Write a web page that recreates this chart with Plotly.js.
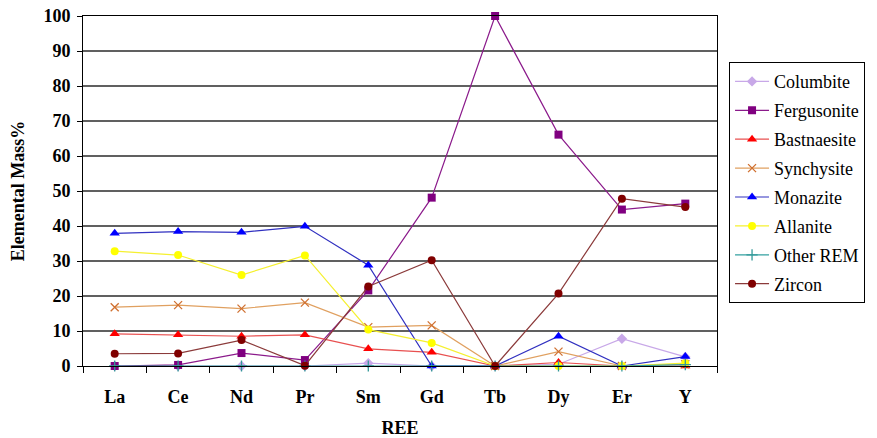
<!DOCTYPE html>
<html><head><meta charset="utf-8">
<script src="https://cdn.plot.ly/plotly-3.0.1.min.js"></script>
<style>html,body{margin:0;padding:0;background:#fff}#chart{width:877px;height:438px}</style>
</head><body><div id="chart"></div>
<script>
const categories = ["La","Ce","Nd","Pr","Sm","Gd","Tb","Dy","Er","Y"];
const columbite   = [0, 0, 0, 0, 0.8, 0, 0, 0.5, 7.8, 2.6];
const fergusonite = [0, 0.3, 3.7, 1.7, 21.6, 48.1, 100, 66.1, 44.7, 46.4];
const bastnaesite = [9.2, 8.9, 8.5, 8.9, 4.9, 3.9, 0, 1.0, 0, 0];
const synchysite  = [16.8, 17.4, 16.4, 18.1, 11.1, 11.6, 0, 4.1, 0, 0.5];
const monazite    = [37.9, 38.4, 38.2, 39.9, 28.8, 0, 0, 8.5, 0, 2.7];
const allanite    = [32.8, 31.7, 26.0, 31.6, 10.4, 6.6, 0, 0, 0, 0.8];
const otherREM    = [0, 0, 0, 0, 0, 0, 0, 0, 0, 0.4];
const zircon      = [3.5, 3.6, 7.4, 0.1, 22.7, 30.2, 0, 20.7, 47.8, 45.4];

const F = "Liberation Serif, Times New Roman, Times, serif";
function tr(name, y, lc, mc, sym, size){
  return {x: categories, y: y, name: name, legendgroup: name, type: 'scatter', mode: 'lines+markers',
    cliponaxis: false,
    line: {color: lc, width: 1.2},
    marker: {color: mc, symbol: sym, size: size, line: {color: mc, width: sym.indexOf('thin')>=0 ? 1.3 : 0}}};
}
const data = [
  tr('Columbite', columbite, '#C8A8E8', '#C8A8E8', 'diamond', 8),
  tr('Fergusonite', fergusonite, '#8B1A8B', '#800080', 'square', 8),
  tr('Bastnaesite', bastnaesite, '#E85050', '#FF0000', 'triangle-up', 9),
  tr('Synchysite', synchysite, '#E0A060', '#D07030', 'x-thin', 8),
  tr('Monazite', monazite, '#3030C0', '#0000FF', 'triangle-up', 9),
  tr('Allanite', allanite, '#F5F030', '#FFFF00', 'circle', 8),
  tr('Other REM', otherREM, '#33A0A0', '#339999', 'cross-thin', 8),
  tr('Zircon', zircon, '#8B3A3A', '#800000', 'circle', 8)
];
const layout = {
  width: 877, height: 438,
  margin: {l: 83, r: 158, t: 16, b: 72},
  paper_bgcolor: '#fff', plot_bgcolor: '#fff',
  font: {family: F, color: '#000'},
  showlegend: true,
  legend: {x: 1.019, y: 0.868, xanchor: 'left', yanchor: 'top',
    bordercolor: '#000', borderwidth: 1, bgcolor: '#fff',
    font: {family: F, size: 18, color: '#000'}, tracegroupgap: 2.5, itemwidth: 34},
  xaxis: {type: 'category', range: [-0.5, 9.5], tickson: 'boundaries',
    ticks: 'outside', ticklen: 6, tickcolor: '#000', showline: true, linecolor: '#000',
    linewidth: 1, mirror: true, showgrid: false, zeroline: false, ticklabelstandoff: 14,
    tickfont: {family: F, size: 18, weight: 'bold'},
    title: {text: 'REE', font: {family: F, size: 18, weight: 'bold'}, standoff: 20}},
  yaxis: {range: [0, 100], dtick: 10, ticks: 'outside', ticklen: 5, tickcolor: '#000',
    showline: true, linecolor: '#000', linewidth: 1, mirror: true, ticklabelstandoff: 3,
    showgrid: true, gridcolor: '#606060', gridwidth: 1.5, zeroline: false,
    tickfont: {family: F, size: 18, weight: 'bold'},
    title: {text: 'Elemental Mass%', font: {family: F, size: 18, weight: 'bold'}, standoff: 14}}
};
Plotly.newPlot('chart', data, layout, {displayModeBar: false, staticPlot: true});
</script></body></html>
